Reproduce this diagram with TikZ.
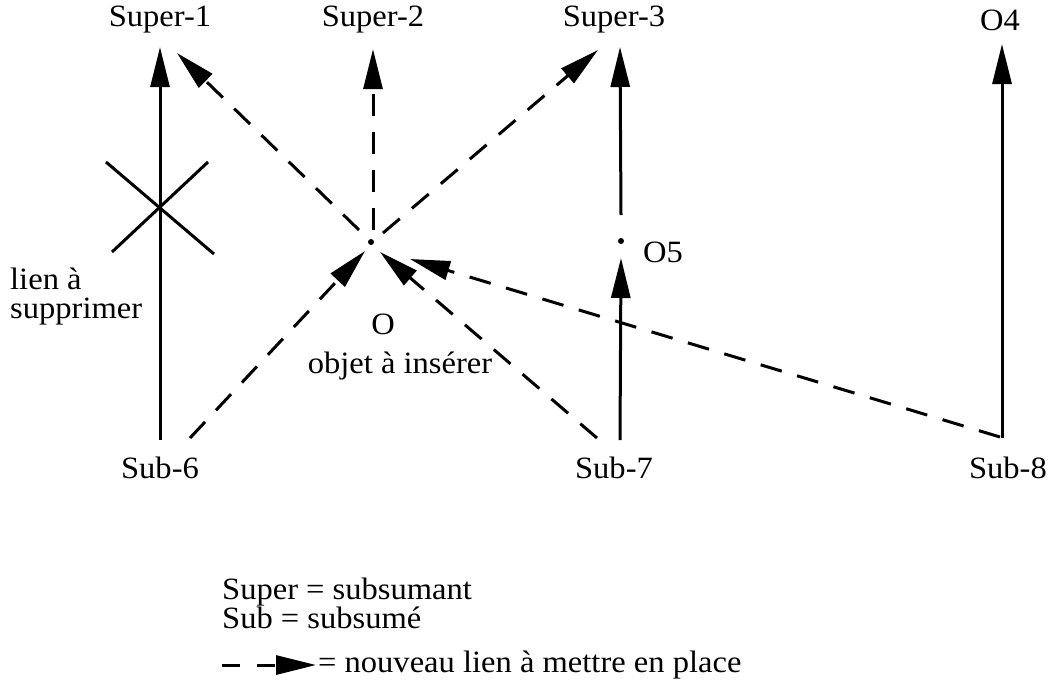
\documentclass[tikz,border=0pt]{standalone}
\usepackage{fontspec}
\setmainfont[FakeStretch=1.05]{Liberation Serif}
\usetikzlibrary{arrows.meta,calc}
\begin{document}
\begin{tikzpicture}[x=1pt,y=-1pt,
  lbl/.style={font=\fontsize{31}{29}\selectfont, inner sep=0pt},
  link/.style={line width=3pt, -{Triangle[length=40pt,width=19pt]}},
  newlink/.style={link, dash pattern=on 22pt off 16pt},
  pt/.style={circle, fill=black, inner sep=0pt, minimum size=6pt}]
\useasboundingbox (0,0) rectangle (1049,681);
% labels
\node[lbl] (super1) at (160,20) {Super-1};
\node[lbl] (super2) at (373,20) {Super-2};
\node[lbl] (super3) at (614,20) {Super-3};
\node[lbl] (o4) at (1000,20) {O4};
\node[lbl] (sub6) at (160,468) {Sub-6};
\node[lbl] (sub7) at (614,468) {Sub-7};
\node[lbl, anchor=east] (sub8) at (1047,468) {Sub-8};
\node[lbl, anchor=base west, align=left] (lien) at (10,318) {lien à\\supprimer};
\node[lbl] (olab) at (383,324) {O};
\node[lbl] (oins) at (400,366) {objet à insérer};
\node[lbl, anchor=west] (o5lab) at (643,252) {O5};
% points
\node[pt] (O) at (371,242) {};
\node[pt] (O5) at (621,241) {};
% anchor coordinates
\coordinate (t1) at (160,47);
\coordinate (t1d) at (177,53);
\coordinate (t2) at (373,49);
\coordinate (t3) at (620,47);
\coordinate (t3d) at (598,50);
\coordinate (t4) at (1002,44);
\coordinate (b6) at (160,440);
\coordinate (b6d) at (190,438);
\coordinate (b7) at (620,440);
\coordinate (b7d) at (597,438);
\coordinate (b8) at (1002,438);
\coordinate (b8d) at (1000,437);
\coordinate (o5top) at (621,215);
\coordinate (o5bot) at (621,258);
\coordinate (tO6) at (365,251);
\coordinate (tO7) at (380,252);
\coordinate (tO8) at (410,259);
% solid links
\draw[link] (b6) -- (t1);
\draw[link] (b7) -- (o5bot);
\draw[link] (o5top) -- (t3);
\draw[link] (b8) -- (t4);
% crossing out
\draw[line width=3pt] (106,162) -- (214,254);
\draw[line width=3pt] (112,252) -- (208,162);
% new links
\draw[newlink] ($(O)+(-12,-12)$) -- (t1d);
\draw[newlink] ($(O)+(2,-12)$) -- (t2);
\draw[newlink] ($(O)+(12,-9)$) -- (t3d);
\draw[newlink] (b6d) -- (tO6);
\draw[newlink] (b7d) -- (tO7);
\draw[newlink] (b8d) -- (tO8);
% legend
\node[lbl, anchor=base west, align=left] (leg1) at (222,628) {Super = subsumant\\Sub = subsumé};
\coordinate (lg0) at (222,665);
\coordinate (lg1) at (316,665);
\draw[newlink, dash pattern=on 18pt off 17pt] (lg0) -- (lg1);
\node[lbl, anchor=west] (leg3) at (318,665) {= nouveau lien à mettre en place};
\end{tikzpicture}
\end{document}
